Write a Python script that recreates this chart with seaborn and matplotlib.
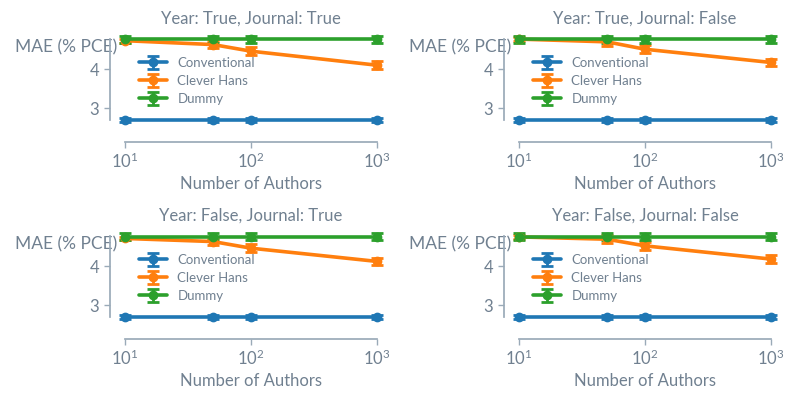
import numpy as np
import matplotlib
matplotlib.use("Agg")
import matplotlib.pyplot as plt
import seaborn as sns

# number of authors on the x axis
n_authors = [10, 50, 100, 1000]
methods = ["Conventional", "Clever Hans", "Dummy"]
panel_titles = [
    "Year: True, Journal: True",
    "Year: True, Journal: False",
    "Year: False, Journal: True",
    "Year: False, Journal: False",
]

# mean MAE per panel (same order as panel_titles)
conventional_mae = [
    [2.69, 2.69, 2.69, 2.69],
    [2.69, 2.69, 2.69, 2.69],
    [2.69, 2.69, 2.69, 2.69],
    [2.69, 2.69, 2.69, 2.69],
]
clever_hans_mae = [
    [4.73, 4.63, 4.46, 4.10],
    [4.77, 4.70, 4.51, 4.17],
    [4.71, 4.63, 4.46, 4.12],
    [4.75, 4.69, 4.52, 4.18],
]
dummy_mae = [
    [4.77, 4.77, 4.77, 4.77],
    [4.77, 4.77, 4.77, 4.77],
    [4.75, 4.75, 4.75, 4.75],
    [4.75, 4.75, 4.75, 4.75],
]
# error bar half widths
conventional_err = [0.06, 0.06, 0.06, 0.06]
clever_hans_err = [0.05, 0.1, 0.1, 0.1]
dummy_err = [0.09, 0.09, 0.09, 0.09]

text_color = "#708090"
spine_color = "#9aaab8"

sns.set_theme(style="ticks")
plt.rcParams["font.family"] = ["Lato", "DejaVu Sans"]
plt.rcParams["mathtext.default"] = "regular"
plt.rcParams["text.color"] = text_color
plt.rcParams["axes.labelcolor"] = text_color
plt.rcParams["xtick.color"] = spine_color
plt.rcParams["ytick.color"] = spine_color
plt.rcParams["xtick.labelcolor"] = text_color
plt.rcParams["ytick.labelcolor"] = text_color
plt.rcParams["axes.edgecolor"] = spine_color

palette = sns.color_palette("tab10", 3)

fig = plt.figure(figsize=(7.93, 3.94), dpi=100)
W, H = 793, 394

# axes placement in pixels (left, top) for each panel
origins = [(125, 36), (519, 36), (125, 233), (519, 233)]
ax_w, ax_h = 252, 87.6

for i, (x0, y0) in enumerate(origins):
    ax = fig.add_axes([x0 / W, 1 - (y0 + ax_h) / H, ax_w / W, ax_h / H])
    series = [
        (conventional_mae[i], conventional_err),
        (clever_hans_mae[i], clever_hans_err),
        (dummy_mae[i], dummy_err),
    ]
    for (vals, err), name, col in zip(series, methods, palette):
        cont = ax.errorbar(n_authors, vals, yerr=err, fmt="-o", color=col, lw=2.6,
                           markersize=6, capsize=4.5, capthick=2, elinewidth=2,
                           label=name)
        for art in cont.get_children():
            art.set_clip_on(False)
    ax.set_xscale("log")
    ax.set_xlim(10, 1000)
    ax.set_ylim(2.6, 4.85)
    ax.set_yticks([3, 4])
    ax.minorticks_off()
    ax.set_xticks([10, 100, 1000])
    ax.tick_params(labelsize=12, length=4, width=1)
    sns.despine(ax=ax, offset={"left": 11, "bottom": 13})
    ax.spines["left"].set_bounds(2.69, 4.77)
    ax.spines["bottom"].set_bounds(10, 1000)
    ax.set_title(panel_titles[i], fontsize=12, color=text_color, pad=9)
    ax.set_xlabel("Number of Authors", fontsize=12, labelpad=3)
    ax.set_ylabel("MAE (% PCE)", fontsize=12.5, rotation=0, ha="right", va="center")
    ax.yaxis.set_label_coords(-0.03, 0.87)
    leg = ax.legend(loc="upper left", bbox_to_anchor=(0.035, 0.82), frameon=False,
                    fontsize=9.5, handlelength=2.1, labelspacing=0.45,
                    borderaxespad=0.0)
    for t in leg.get_texts():
        t.set_color(text_color)

fig.savefig("out.png", dpi=100)
